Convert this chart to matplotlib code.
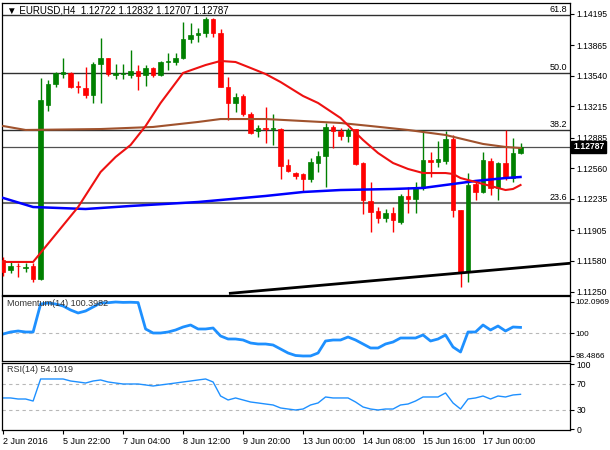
import matplotlib
matplotlib.use('Agg')
import matplotlib.pyplot as plt
import numpy as np

plt.rcParams['font.family'] = ['Liberation Sans', 'DejaVu Sans']

# ---------------- data ----------------
symbol = "EURUSD,H4"
opens = [1.1159, 1.1148, 1.1153, 1.1150, 1.1152, 1.1139, 1.1323, 1.1345, 1.1356, 1.1357,
         1.1343, 1.1341, 1.1334, 1.1367, 1.1373, 1.1355, 1.1356, 1.1355, 1.1359, 1.1355,
         1.1362, 1.1355, 1.1369, 1.1369, 1.1373, 1.1393, 1.1397, 1.1399, 1.1414, 1.1399,
         1.1342, 1.1325, 1.1333, 1.1314, 1.1295, 1.1299, 1.1298, 1.1298, 1.1260, 1.1251,
         1.1250, 1.1245, 1.1262, 1.1269, 1.1300, 1.1295, 1.1290, 1.1298, 1.1262, 1.1221,
         1.1211, 1.1203, 1.1209, 1.1199, 1.1227, 1.1224, 1.1235, 1.1265, 1.1263, 1.1264,
         1.1287, 1.1212, 1.1146, 1.1239, 1.1231, 1.1264, 1.1235, 1.1262, 1.1246, 1.12722]
highs = [1.1162, 1.1157, 1.1156, 1.1156, 1.1156, 1.1352, 1.1350, 1.1358, 1.1373, 1.1358,
         1.1349, 1.1363, 1.1369, 1.1394, 1.1373, 1.1367, 1.1367, 1.1381, 1.1365, 1.1365,
         1.1363, 1.1370, 1.1378, 1.1378, 1.1411, 1.1410, 1.1405, 1.1416, 1.1415, 1.1404,
         1.1353, 1.1336, 1.1335, 1.1316, 1.1302, 1.1321, 1.1313, 1.1299, 1.1266, 1.1252,
         1.1251, 1.1267, 1.1274, 1.1304, 1.1302, 1.1299, 1.1299, 1.1298, 1.1263, 1.1242,
         1.1215, 1.1213, 1.1215, 1.1229, 1.1236, 1.1242, 1.1297, 1.1273, 1.1285, 1.1296,
         1.1291, 1.1212, 1.1251, 1.1242, 1.1273, 1.1267, 1.1263, 1.1297, 1.1288, 1.12832]
lows = [1.1142, 1.1145, 1.1141, 1.1146, 1.1136, 1.1138, 1.1317, 1.1342, 1.1352, 1.1341,
        1.1336, 1.1331, 1.1325, 1.1325, 1.1354, 1.1351, 1.1351, 1.1352, 1.1339, 1.1343,
        1.1353, 1.1354, 1.1360, 1.1365, 1.1372, 1.1389, 1.1390, 1.1395, 1.1395, 1.1342,
        1.1307, 1.1316, 1.1311, 1.1292, 1.1289, 1.1283, 1.1281, 1.1245, 1.1252, 1.1245,
        1.1231, 1.1242, 1.1252, 1.1236, 1.1278, 1.1286, 1.1284, 1.1260, 1.1208, 1.1189,
        1.1198, 1.1199, 1.1189, 1.1197, 1.1209, 1.1209, 1.1233, 1.1247, 1.1257, 1.1261,
        1.1204, 1.1130, 1.1136, 1.1222, 1.1230, 1.1228, 1.1222, 1.1244, 1.1242, 1.12707]
closes = [1.1146, 1.1153, 1.1152, 1.1151, 1.1139, 1.1328, 1.1345, 1.1357, 1.1358, 1.1342,
          1.1342, 1.1334, 1.1367, 1.1373, 1.1356, 1.1357, 1.1357, 1.1359, 1.1354, 1.1362,
          1.1355, 1.1369, 1.1370, 1.1373, 1.1393, 1.1397, 1.1399, 1.1414, 1.1399, 1.1342,
          1.1325, 1.1332, 1.1314, 1.1293, 1.1299, 1.1298, 1.1299, 1.1258, 1.1253, 1.1248,
          1.1245, 1.1263, 1.1269, 1.1300, 1.1295, 1.1290, 1.1297, 1.1261, 1.1222, 1.1210,
          1.1203, 1.1209, 1.1201, 1.1227, 1.1224, 1.1235, 1.1265, 1.1263, 1.1266, 1.1287,
          1.1212, 1.1146, 1.1238, 1.1231, 1.1265, 1.1235, 1.1262, 1.1246, 1.1272, 1.12787]

# moving averages (vertices read at bar indices)
red_idx = [0, 4, 10, 13, 15, 17, 19, 21, 24, 27, 29, 31, 33, 35, 37, 40, 42, 45, 48, 50,
           52, 54, 56, 59, 60, 61, 63, 65, 67, 68, 69]
red_val = [1.11568, 1.11568, 1.12150, 1.12521, 1.12680, 1.12807, 1.13008, 1.13252, 1.13570,
           1.13654, 1.13697, 1.13686, 1.13623, 1.13559, 1.13474, 1.13326, 1.13252, 1.13093,
           1.12860, 1.12722, 1.12616, 1.12553, 1.12510, 1.12510, 1.12500, 1.12457, 1.12415,
           1.12373, 1.12330, 1.12341, 1.12383]
brown_idx = [0, 3, 13, 20, 26, 29, 35, 40, 45, 49, 54, 59, 64, 67, 69]
brown_val = [1.13008, 1.12966, 1.12976, 1.12998, 1.13051, 1.13082, 1.13082, 1.13061, 1.13040,
             1.13008, 1.12966, 1.12913, 1.12818, 1.12786, 1.12775]
blue_idx = [0, 4, 11, 17, 26, 35, 40, 45, 52, 56, 60, 63, 67, 69]
blue_val = [1.12246, 1.12150, 1.12129, 1.12161, 1.12203, 1.12267, 1.12309, 1.12330, 1.12341,
            1.12352, 1.12394, 1.12426, 1.12457, 1.12468]

# trend line (bar index, price)
trend_idx = [30.3, 75.6]
trend_val = [1.11236, 1.11554]

# fibonacci levels
fib_labels = ["23.6", "38.2", "50.0", "61.8"]
fib_prices = [1.12196, 1.12966, 1.13573, 1.14184]

price_ticks = [1.14195, 1.13865, 1.13540, 1.13215, 1.12885, 1.12560, 1.12235, 1.11905,
               1.11580, 1.11250]
price_tick_labels = ["1.14195", "1.13865", "1.13540", "1.13215", "1.12885", "1.12560",
                     "1.12235", "1.11905", "1.11580", "1.11250"]

momentum = [99.957, 100.091, 100.158, 100.091, 100.091, 101.963, 102.030, 101.963, 101.829, 101.562,
            101.362, 101.495, 101.763, 102.030, 102.050, 102.0969, 102.070, 102.080, 102.060, 100.292,
            100.024, 100.024, 100.091, 100.225, 100.425, 100.559, 100.292, 100.292, 100.358, 99.824,
            99.623, 99.623, 99.556, 99.356, 99.289, 99.289, 99.222, 98.954, 98.687, 98.520,
            98.4866, 98.490, 98.687, 99.489, 99.556, 99.556, 99.757, 99.556, 99.289, 99.021,
            99.021, 99.289, 99.422, 99.690, 99.690, 99.690, 99.891, 99.489, 99.623, 99.891,
            99.088, 98.754, 100.091, 100.091, 100.559, 100.225, 100.492, 100.158, 100.425, 100.3982]
mom_ticks = [102.0969, 100, 98.4866]
mom_tick_labels = ["102.0969", "100", "98.4866"]

rsi = [48.5, 48.5, 46.9, 46.9, 43.8, 77.7, 77.7, 77.7, 77.7, 74.6,
       73.1, 71.5, 74.6, 76.2, 73.1, 71.5, 70.0, 70.0, 70.0, 68.5,
       66.9, 68.5, 70.0, 71.5, 73.1, 74.6, 76.2, 77.7, 73.1, 51.5,
       45.4, 48.5, 45.4, 42.3, 40.8, 39.2, 37.7, 33.1, 31.5, 30.0,
       31.5, 37.7, 40.8, 50.0, 48.5, 48.5, 48.5, 42.3, 34.6, 31.5,
       30.0, 31.5, 31.5, 37.7, 39.2, 43.8, 50.0, 50.0, 50.0, 56.2,
       40.8, 31.5, 46.9, 48.5, 51.5, 46.9, 51.5, 50.0, 53.1, 54.1019]
rsi_ticks = [100, 70, 30, 0]
rsi_tick_labels = ["100", "70", "30", "0"]

date_labels = ["2 Jun 2016", "5 Jun 22:00", "7 Jun 04:00", "8 Jun 12:00", "9 Jun 20:00",
               "13 Jun 00:00", "14 Jun 08:00", "15 Jun 16:00", "17 Jun 00:00"]
date_step = 8

# ---------------- figure ----------------
W, H = 610, 450
fig = plt.figure(figsize=(W / 100, H / 100), dpi=100)
fig.patch.set_facecolor('white')


def rect(x0, y0, x1, y1):
    return [x0 / W, 1 - y1 / H, (x1 - x0) / W, (y1 - y0) / H]


ax = fig.add_axes(rect(2, 3, 570, 295))
axm = fig.add_axes(rect(2, 296, 570, 361), sharex=ax)
axr = fig.add_axes(rect(2, 363, 570, 430), sharex=ax)

FS = 6.5
TFS = 6.2
GREEN = '#008000'
RED = '#ff0000'

o = np.array(opens); h = np.array(highs); l = np.array(lows); c = np.array(closes)
x = np.arange(len(o))
cols = [GREEN if cc >= oo else RED for oo, cc in zip(o, c)]

# fib + price lines
for lab, pr in zip(fib_labels, fib_prices):
    if lab == "23.6":
        ax.axhline(pr, color='#707070', lw=1.5, zorder=1)
    else:
        ax.axhline(pr, color='#303030', lw=1.0, zorder=1)
    ax.annotate(lab, xy=(1, pr), xycoords=('axes fraction', 'data'), xytext=(-2, 0.8),
                textcoords='offset points', ha='right', va='bottom', fontsize=FS, color='black')
ax.axhline(c[-1], color='#505050', lw=0.9, zorder=1)

# candles
ax.vlines(x, l, h, colors=cols, lw=1.0, zorder=3)
ax.bar(x, np.maximum(np.abs(c - o), 0.00002), bottom=np.minimum(o, c), width=0.62,
       color=cols, edgecolor=cols, linewidth=0.5, zorder=4)

# moving averages & trend line
ax.plot(brown_idx, brown_val, color='#a0522d', lw=1.5, zorder=5)
ax.plot(blue_idx, blue_val, color='#0000ff', lw=1.8, zorder=5)
ax.plot(red_idx, red_val, color='#ee1111', lw=1.5, zorder=6)
ax.plot(trend_idx, trend_val, color='black', lw=2.0, zorder=5)

ax.set_xlim(-0.15, 75.6)
ax.set_ylim(1.11218, 1.14311)
ax.set_yticks(price_ticks)
ax.set_yticklabels(price_tick_labels)

# header
ax.text(0.009, 0.975,
        "\u25BC " + f"{symbol}  {opens[-1]:.5f} {highs[-1]:.5f} {lows[-1]:.5f} {closes[-1]:.5f}",
        transform=ax.transAxes, ha='left', va='center', fontsize=FS + 0.5, color='black', zorder=10)

# current price box
ax.annotate(f"{closes[-1]:.5f}", xy=(1, c[-1]), xycoords=('axes fraction', 'data'),
            xytext=(2.2, 0), textcoords='offset points', ha='left', va='center',
            fontsize=TFS, color='white', fontweight='bold', annotation_clip=False,
            bbox=dict(boxstyle='square,pad=0.2', fc='black', ec='black'))

# momentum
axm.axhline(100, color='#b8b8b8', lw=0.8, ls=(0, (3, 3)))
axm.plot(x, momentum, color='#1e90ff', lw=2.0)
axm.set_ylim(98.152, 102.498)
axm.set_yticks(mom_ticks)
axm.set_yticklabels(mom_tick_labels)
axm.text(0.009, 0.89, f"Momentum(14) {momentum[-1]:.4f}", transform=axm.transAxes,
         ha='left', va='center', fontsize=FS, color='#333333')

# rsi
for lv in (70, 30):
    axr.axhline(lv, color='#b8b8b8', lw=0.8, ls=(0, (3, 3)))
axr.plot(x, rsi, color='#1e90ff', lw=1.0)
axr.set_ylim(-0.8, 102.3)
axr.set_yticks(rsi_ticks)
axr.set_yticklabels(rsi_tick_labels)
axr.text(0.009, 0.896, f"RSI(14) {rsi[-1]:.4f}", transform=axr.transAxes,
         ha='left', va='center', fontsize=FS, color='#333333')
tl = axr.get_yticklabels()
tl[0].set_va('top')
tl[-1].set_va('bottom')

# x ticks
axr.set_xticks(np.arange(0, len(date_labels) * date_step, date_step))
axr.set_xticklabels(date_labels)
for t in axr.get_xticklabels():
    t.set_ha('left')

for a in (ax, axm, axr):
    a.set_facecolor('white')
    for s in a.spines.values():
        s.set_color('black')
        s.set_linewidth(0.9)
    a.tick_params(axis='y', left=False, labelleft=False, right=True, labelright=True,
                  direction='out', length=3, width=0.8, labelsize=TFS, pad=1.5, colors='black')
    a.tick_params(axis='x', bottom=False, labelbottom=False)
axm.tick_params(axis='y', labelsize=5.9, pad=1.2)
axr.tick_params(axis='x', bottom=True, labelbottom=True, direction='out', length=3,
                width=0.8, labelsize=FS, pad=2)

fig.savefig('out.png', dpi=100, facecolor='white')
